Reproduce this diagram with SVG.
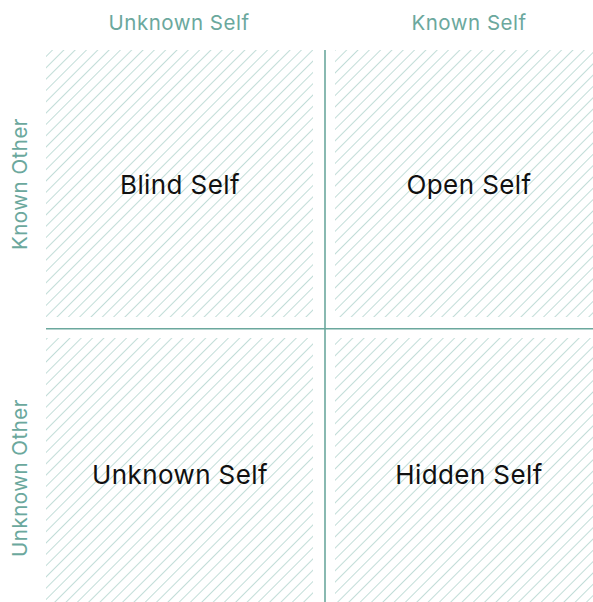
<svg xmlns="http://www.w3.org/2000/svg" width="593" height="602" viewBox="0 0 593 602">
  <defs>
    <pattern id="hatch" width="8" height="8" patternUnits="userSpaceOnUse" patternTransform="rotate(45)">
      <line x1="0" y1="0" x2="0" y2="8" stroke="#98c6be" stroke-width="1.2"/>
    </pattern>
    <style>
      .axis { font-family: Inter, "Liberation Sans", sans-serif; font-size: 20.5px; letter-spacing: 0.5px; fill: #6ba89d; text-anchor: middle; }
      .name { font-family: Inter, "Liberation Sans", sans-serif; font-size: 26px; letter-spacing: 0.4px; fill: #111111; text-anchor: middle; }
      .cell { fill: url(#hatch); }
      .rule { stroke: #6ba89d; stroke-width: 1.6; fill: none; }
    </style>
  </defs>
  <rect width="593" height="602" fill="#ffffff"/>

  <!-- axis headings -->
  <g id="axis-labels">
    <text class="axis" x="179" y="30">Unknown Self</text>
    <text class="axis" x="469" y="30">Known Self</text>
    <text class="axis" transform="translate(27,184) rotate(-90)">Known Other</text>
    <text class="axis" transform="translate(27,478) rotate(-90)">Unknown Other</text>
  </g>

  <!-- divider rules -->
  <g id="connectors">
    <line class="rule" x1="46" y1="328.8" x2="593" y2="328.8"/>
    <line class="rule" x1="325" y1="50" x2="325" y2="602"/>
  </g>

  <g id="blind-self">
    <rect class="cell" x="46" y="50" width="267" height="267"/>
    <text class="name" x="180" y="193.5">Blind Self</text>
  </g>
  <g id="open-self">
    <rect class="cell" x="335" y="50" width="258" height="267"/>
    <text class="name" x="469" y="193.5">Open Self</text>
  </g>
  <g id="unknown-self">
    <rect class="cell" x="46" y="338" width="267" height="264"/>
    <text class="name" x="180" y="483.5">Unknown Self</text>
  </g>
  <g id="hidden-self">
    <rect class="cell" x="335" y="338" width="258" height="264"/>
    <text class="name" x="469" y="483.5">Hidden Self</text>
  </g>
</svg>
